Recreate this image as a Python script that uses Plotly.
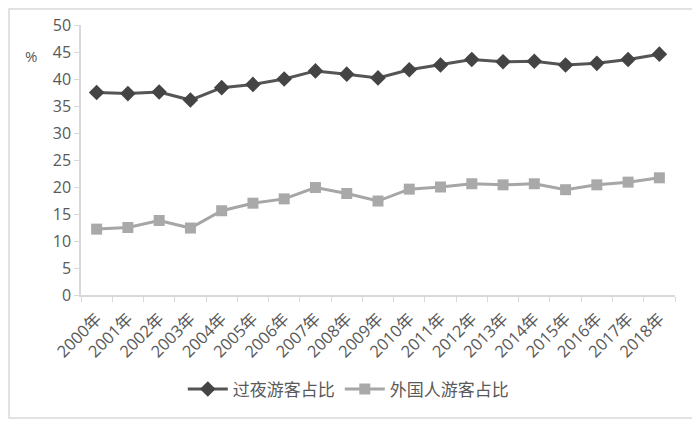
import plotly.graph_objects as go

years = ['%d年' % y for y in range(2000, 2019)]
overnight = [37.5, 37.3, 37.6, 36.1, 38.4, 39.0, 40.0, 41.5, 40.9, 40.2,
             41.7, 42.6, 43.6, 43.2, 43.3, 42.6, 42.9, 43.6, 44.6]
foreign = [12.2, 12.5, 13.8, 12.4, 15.6, 17.0, 17.8, 19.9, 18.8, 17.4,
           19.6, 20.0, 20.6, 20.4, 20.6, 19.5, 20.4, 20.9, 21.7]

axis_color = '#d9d9d9'
text_color = '#595959'


def main():
    fig = go.Figure()
    fig.add_trace(
        go.Scatter(
            x=years, y=overnight,
            mode='lines+markers',
            name='过夜游客占比',
            line=dict(color='#555555', width=3),
            marker=dict(symbol='diamond', size=12, color='#444444')
        )
    )
    fig.add_trace(
        go.Scatter(
            x=years, y=foreign,
            mode='lines+markers',
            name='外国人游客占比',
            line=dict(color='#a6a6a6', width=3),
            marker=dict(symbol='square', size=11, color='#a9a9a9')
        )
    )
    # page has an 8px body margin, so margins are shifted to compensate
    fig.update_layout(
        width=700, height=422,
        margin=dict(l=73, r=33, t=17, b=135),
        paper_bgcolor='white', plot_bgcolor='white',
        font=dict(family='Open Sans, Noto Sans CJK SC', color=text_color),
        showlegend=True,
        legend=dict(
            orientation='h', x=0.45, xanchor='center', y=-0.35, yanchor='middle',
            font=dict(size=17, family='Noto Sans CJK SC', color=text_color),
            itemwidth=40, traceorder='normal'
        ),
        xaxis=dict(
            type='category', tickson='boundaries', automargin=False,
            range=[-0.5, len(years) - 0.5],
            ticks='outside', ticklen=5, tickcolor=axis_color,
            showline=True, linecolor=axis_color, linewidth=1.5,
            showgrid=False, tickangle=-45, ticklabelstandoff=6,
            tickfont=dict(size=16.5, family='Open Sans, Noto Sans CJK SC', color=text_color)
        ),
        yaxis=dict(
            range=[0, 50], dtick=5, automargin=False,
            ticks='outside', ticklen=5, tickcolor=axis_color,
            showline=True, linecolor=axis_color, linewidth=1.5,
            showgrid=False, zeroline=False,
            tickfont=dict(size=16, color=text_color)
        ),
        shapes=[dict(
            type='rect', xref='paper', yref='paper',
            x0=-0.1212, x1=1.0354, y0=-0.4556, y1=1.0593,
            line=dict(color='#d9d9d9', width=1.5), fillcolor='rgba(0,0,0,0)'
        )],
        annotations=[dict(
            text='%', xref='paper', yref='paper', x=-0.085, y=0.885,
            xanchor='center', yanchor='middle',
            showarrow=False, font=dict(size=15, color=text_color)
        )]
    )
    fig.write_html('out.html')


if __name__ == '__main__':
    main()
